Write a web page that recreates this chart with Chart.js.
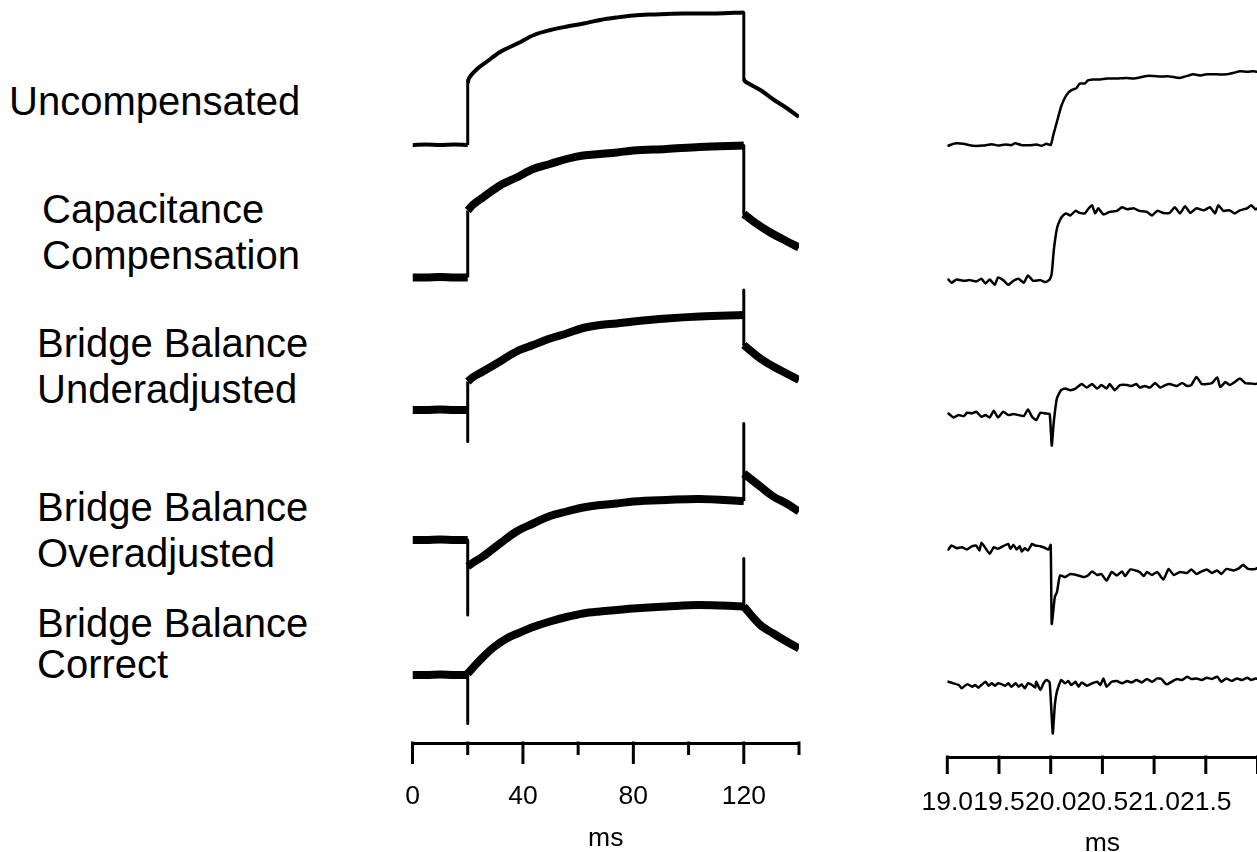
<!DOCTYPE html>
<html><head><meta charset="utf-8">
<script src="https://cdn.jsdelivr.net/npm/chart.js@4.4.1/dist/chart.umd.min.js"></script>
<style>
html,body{margin:0;padding:0;background:#fff;overflow:hidden;width:1257px;height:852px;position:relative;}
.lbl{position:absolute;font-family:"Liberation Sans",Arial,Helvetica,sans-serif;font-size:40px;line-height:46px;color:#000;white-space:nowrap;}
canvas{position:absolute;top:0;}
</style></head><body>
<div class="lbl" style="left:9px;top:78px">Uncompensated</div>
<div class="lbl" style="left:42px;top:186px">Capacitance<br>Compensation</div>
<div class="lbl" style="left:37px;top:320px">Bridge Balance<br>Underadjusted</div>
<div class="lbl" style="left:37px;top:484px">Bridge Balance<br>Overadjusted</div>
<div class="lbl" style="left:37px;top:603px;line-height:41px">Bridge Balance<br>Correct</div>
<canvas id="left" width="450" height="870" style="left:380px"></canvas>
<canvas id="right" width="400" height="870" style="left:900px"></canvas>
<script>
// ---------- DATA (time in ms, response in mV relative to each trace's baseline) ----------
const traceNames = ['Uncompensated','Capacitance Compensation','Bridge Balance Underadjusted','Bridge Balance Overadjusted','Bridge Balance Correct'];

// Full sweep, 0-140 ms
const uncompLeft = [[0,0],[5,0.1],[10,0],[15,0.1],[20,0],[20,12.4],[20.5,13.4],[23,15],[27,16.7],[32,18.7],[38,20.3],[44,22],[50,23],[56,23.7],[62,24.3],[68,25],[74,25.5],[80,25.9],[86,26.1],[92,26.2],[98,26.3],[104,26.3],[110,26.3],[120,26.5],[120,13.2],[120.5,12.7],[126,11],[131,9],[135.5,7.4],[140,5.6]];
const capLeft = [[0,0],[5,0],[10,0.1],[15,0],[20,0],[20,13.4],[22,14.6],[25.5,16],[31.7,18.4],[37.7,20],[43.7,21.7],[49.8,22.7],[55.8,23.7],[61.8,24.4],[67.9,24.7],[74,25],[80,25.4],[92,25.7],[104,26.1],[120,26.4],[120,12.7],[124,11],[129.3,9.1],[134,7.7],[140,6]];
const underLeft = [[0,0],[5,0],[10,0.1],[15,0],[20,0],[20,-6.3],[20,5.7],[22,6.6],[25.5,7.7],[31.7,9.7],[37.7,11.7],[43.7,13],[49.8,14.3],[55.8,15.3],[61.8,16.4],[67.9,17],[74,17.3],[80,17.7],[92,18.3],[104,18.7],[120,19],[120,24],[120,13],[126,10.3],[130.7,8.7],[135.5,7.3],[140,6]];
const overLeft = [[0,0],[5,0],[10,0.1],[15,0],[20,0],[20,-15],[20,-5.3],[22,-4.5],[25.5,-3.3],[31.7,-0.7],[37.7,1.7],[43.7,3.3],[49.8,4.8],[55.8,5.7],[61.8,6.5],[67.9,7],[74,7.3],[80,7.7],[92,8],[104,8.2],[120,7.8],[120,23.3],[120,13.3],[126,10.7],[130.7,8.7],[135.5,7.3],[140,5.7]];
const correctLeft = [[0,0],[5,0],[10,0.1],[15,0],[20,0],[20,-9.7],[20,0.3],[24.5,3],[29.3,5.5],[34.1,7.3],[38.9,8.5],[43.7,9.6],[49.8,10.7],[55.8,11.6],[61.8,12.3],[67.9,12.7],[74,13],[80,13.3],[92,13.7],[104,14],[120,13.7],[120,23.3],[120,13.7],[126,10],[130.7,8.3],[135.5,6.7],[140,5.3]];

// Expanded view, 19-22 ms
const uncompRight = [[19.0,0],[19.01,-0.1],[19.07,0.33],[19.155,0.26],[19.25,-0.13],[19.35,-0.07],[19.43,0.2],[19.49,-0.07],[19.56,0.13],[19.62,0],[19.655,0.39],[19.72,0],[19.8,0],[19.865,0.13],[19.91,-0.13],[19.96,0.26],[20.0,0],[20.025,1.96],[20.06,4.57],[20.105,7.84],[20.155,9.93],[20.2,10.8],[20.25,11.2],[20.28,12.1],[20.33,12.1],[20.36,12.7],[20.41,12.9],[20.48,12.9],[20.54,13.1],[20.64,13.1],[20.73,13.2],[20.8,13.1],[20.86,13.3],[20.93,13.6],[20.99,13.6],[21.06,13.5],[21.15,13.5],[21.25,13.2],[21.32,13.6],[21.38,13.9],[21.45,13.7],[21.51,13.9],[21.61,13.9],[21.7,13.9],[21.77,14.2],[21.83,14.5],[21.9,14.4],[21.96,14.5],[22.0,14.4]];
const capRight = [[19.0,0],[19.01,0.13],[19.04,-0.52],[19.09,0.13],[19.16,-0.13],[19.22,0],[19.28,-0.26],[19.33,0.26],[19.37,-0.65],[19.41,0.13],[19.46,-0.92],[19.49,0.52],[19.54,0],[19.59,-0.92],[19.64,-0.13],[19.69,0.26],[19.74,-0.52],[19.78,0.92],[19.83,-0.13],[19.9,0],[19.95,-0.39],[19.99,0.13],[20.01,1.3],[20.03,5.9],[20.06,10.1],[20.09,11.8],[20.12,12.7],[20.15,13.1],[20.19,12.7],[20.24,13.6],[20.28,13.2],[20.33,13.1],[20.36,13.9],[20.4,14.7],[20.43,13.1],[20.46,14.1],[20.51,12.9],[20.57,13.4],[20.64,13.6],[20.69,14.3],[20.74,13.9],[20.8,14.1],[20.86,13.6],[20.93,13.4],[20.98,12.7],[21.03,13.6],[21.09,13.2],[21.15,13.2],[21.2,14.3],[21.25,13.1],[21.3,14.5],[21.35,13.2],[21.41,14.1],[21.48,13.7],[21.54,14.3],[21.59,13.1],[21.62,14.7],[21.67,13.6],[21.73,13.7],[21.78,13.1],[21.83,13.7],[21.9,14.1],[21.94,14.7],[21.98,13.9],[22.0,14.1]];
const underRight = [[19.0,0.2],[19.01,0.33],[19.06,-0.46],[19.11,0],[19.16,-0.2],[19.19,0.46],[19.24,0.33],[19.28,0.65],[19.33,-0.33],[19.37,0],[19.41,-0.46],[19.45,0.85],[19.49,-0.46],[19.54,0.65],[19.59,0],[19.64,0.2],[19.69,0],[19.74,-0.2],[19.78,1.1],[19.82,-0.33],[19.86,-0.98],[19.9,0.46],[19.95,0.33],[19.99,0.2],[20.01,-6.0],[20.03,-1.3],[20.06,3.3],[20.1,4.9],[20.14,5.2],[20.19,4.9],[20.24,5.2],[20.3,6.1],[20.35,5.4],[20.4,6.1],[20.45,5.2],[20.49,5.9],[20.54,5.2],[20.57,6.1],[20.62,4.9],[20.67,5.9],[20.74,5.9],[20.78,5.7],[20.83,6.1],[20.86,5.4],[20.91,5.7],[20.96,5.4],[21.01,6.3],[21.06,5.4],[21.11,5.9],[21.15,6.1],[21.22,5.7],[21.27,6.3],[21.32,5.7],[21.36,5.9],[21.41,7.5],[21.46,6.1],[21.51,6.1],[21.56,6.3],[21.61,7.4],[21.64,5.5],[21.69,6.5],[21.73,5.9],[21.78,6.5],[21.83,7.2],[21.88,6.3],[21.93,6.2],[21.98,6.1],[22.0,6.2]];
const overRight = [[19.0,-0.3],[19.01,-0.39],[19.04,0.39],[19.09,-0.13],[19.14,0.07],[19.19,-0.39],[19.24,0.26],[19.28,0.39],[19.31,-0.59],[19.33,0.92],[19.37,-0.13],[19.41,-1.24],[19.45,0.07],[19.49,-0.26],[19.54,0.26],[19.59,0.72],[19.61,-0.26],[19.64,0.52],[19.67,-0.39],[19.7,0.26],[19.72,-0.78],[19.75,-0.13],[19.78,-0.59],[19.82,0.72],[19.85,0.39],[19.9,0.26],[19.95,-0.13],[19.98,-0.39],[20.0,0.52],[20.01,-15],[20.04,-9.7],[20.06,-8.8],[20.09,-5.5],[20.14,-5.8],[20.19,-5.2],[20.25,-5.4],[20.32,-5.8],[20.36,-5.5],[20.4,-4.7],[20.45,-5.4],[20.49,-5.2],[20.54,-6.5],[20.59,-4.8],[20.64,-5.5],[20.69,-4.7],[20.72,-5.6],[20.77,-4.3],[20.82,-4.5],[20.86,-4.8],[20.9,-5.6],[20.93,-4.8],[20.98,-5.4],[21.03,-4.8],[21.09,-6.3],[21.14,-4.2],[21.19,-5.4],[21.25,-4.8],[21.32,-5],[21.36,-4.3],[21.41,-5.2],[21.46,-4.7],[21.51,-4.3],[21.56,-5],[21.61,-4.5],[21.65,-5.2],[21.7,-4.2],[21.77,-4.5],[21.82,-4.1],[21.86,-3.4],[21.91,-4.2],[21.98,-4.2],[22.0,-4.0]];
const correctRight = [[19.0,0.7],[19.01,0.65],[19.06,0.33],[19.11,0],[19.14,-0.65],[19.17,-0.13],[19.2,0.13],[19.24,-0.33],[19.27,0],[19.3,-0.52],[19.33,0],[19.37,0.65],[19.4,-0.13],[19.43,0.33],[19.46,-0.13],[19.49,0.33],[19.53,0.13],[19.56,-0.13],[19.59,0.33],[19.62,-0.33],[19.66,0.33],[19.69,-0.33],[19.72,0.13],[19.75,-0.65],[19.78,0.33],[19.82,0],[19.85,-0.52],[19.86,0.65],[19.9,-0.98],[19.93,0.33],[19.96,0.98],[19.99,0.52],[20.02,-9.5],[20.04,-3.9],[20.06,-1.3],[20.1,0.98],[20.14,0.33],[20.17,0.78],[20.2,0],[20.24,0.65],[20.27,-0.33],[20.3,0.52],[20.35,-0.13],[20.4,0.33],[20.45,0.65],[20.48,0],[20.51,1.3],[20.54,-0.33],[20.59,0.65],[20.64,0.78],[20.69,0.33],[20.74,0.78],[20.78,0.52],[20.83,0.98],[20.88,0.52],[20.93,1.18],[20.98,0.65],[21.03,1.3],[21.07,1.18],[21.12,0.13],[21.17,0.65],[21.22,1.18],[21.27,0.98],[21.32,1.63],[21.36,1.18],[21.41,1.3],[21.46,0.98],[21.51,1.44],[21.56,1.18],[21.61,1.63],[21.65,0.65],[21.7,1.3],[21.75,0.78],[21.8,1.3],[21.85,0.98],[21.9,1.44],[21.94,0.98],[21.98,1.3],[22.0,1.2]];

const leftSeries = [uncompLeft, capLeft, underLeft, overLeft, correctLeft];
const rightSeries = [uncompRight, capRight, underRight, overRight, correctRight];

// axis ranges / ticks
const leftRange = {min: 0, max: 140, step: 20, labelStep: 40};
const rightRange = {min: 19, max: 22, step: 0.5};

// ---------- LAYOUT / STYLE ----------
const TRACE_OFFSET = [106, 79.5, 53, 27, 0];   // vertical stacking of traces (mV)
const LEFT_Y = {min: -13.6, max: 135};
const RIGHT_Y = {min: -14.13, max: 134.5};
const LEFT_WIDTH = [4, 8, 8, 8, 8];
const RIGHT_WIDTH = 2.5;
const FONT = '"Liberation Sans", Arial, Helvetica, sans-serif';

// split a trace into runs of vertical (same-time) steps and sloped pieces
function pieces(pts) {
  const out = [];
  let cur = [pts[0]];
  let vert = null;
  for (let i = 1; i < pts.length; i++) {
    const v = pts[i][0] === pts[i - 1][0];
    if (vert === null || v === vert) { cur.push(pts[i]); vert = v; }
    else { out.push({vert: vert, pts: cur}); cur = [pts[i - 1], pts[i]]; vert = v; }
  }
  out.push({vert: vert, pts: cur});
  return out;
}

function leftDatasets(series) {
  const ds = [];
  series.forEach((s, i) => {
    pieces(s).forEach(p => {
      ds.push({
        label: traceNames[i],
        data: p.pts.map(([x, v]) => ({x: x, y: v + TRACE_OFFSET[i]})),
        borderColor: '#000',
        borderWidth: p.vert ? 3 : LEFT_WIDTH[i],
        pointRadius: 0,
        tension: p.vert ? 0 : 0.35,
        fill: false,
        borderCapStyle: 'butt',
        borderJoinStyle: 'round'
      });
    });
  });
  return ds;
}

function rightDatasets(series) {
  return series.map((s, i) => ({
    label: traceNames[i],
    data: s.map(([x, v]) => ({x: x, y: v + TRACE_OFFSET[i]})),
    borderColor: '#000',
    borderWidth: RIGHT_WIDTH,
    pointRadius: 0,
    tension: 0.15,
    fill: false,
    borderJoinStyle: 'round'
  }));
}

const tickPlugin = {
  id: 'axisTicks',
  afterDraw(chart, args, opts) {
    const s = chart.scales.x;
    const ctx = chart.ctx;
    ctx.save();
    ctx.strokeStyle = '#000';
    ctx.lineWidth = 3;
    ctx.lineCap = 'butt';
    s.ticks.forEach(t => {
      const x = s.getPixelForValue(t.value);
      const r = t.value / opts.every;
      const isMajor = Math.abs(r - Math.round(r)) < 1e-6;
      const len = isMajor ? opts.major : opts.minor;
      ctx.beginPath();
      ctx.moveTo(x, s.top - 1.5);
      ctx.lineTo(x, s.top + len);
      ctx.stroke();
    });
    ctx.restore();
  }
};

function makeChart(id, cfg) {
  return new Chart(document.getElementById(id), {
    type: 'line',
    data: {datasets: cfg.datasets},
    plugins: [tickPlugin],
    options: {
      responsive: false,
      animation: false,
      devicePixelRatio: 1,
      layout: {padding: cfg.padding},
      plugins: {
        legend: {display: false},
        tooltip: {enabled: false},
        axisTicks: cfg.ticksOpt
      },
      scales: {
        x: {
          type: 'linear',
          min: cfg.range.min,
          max: cfg.range.max,
          ticks: {
            stepSize: cfg.range.step,
            autoSkip: false,
            maxRotation: 0,
            minRotation: 0,
            color: '#000',
            padding: cfg.labelPad,
            font: {family: FONT, size: 26.5, lineHeight: 1.2},
            callback: cfg.labelFn
          },
          grid: {
            display: true,
            drawOnChartArea: false,
            drawTicks: true,
            tickLength: cfg.ticksOpt.major,
            tickColor: 'rgba(0,0,0,0)'
          },
          border: {display: true, color: '#000', width: 3},
          title: {
            display: true,
            text: 'ms',
            color: '#000',
            font: {family: FONT, size: 26.5, lineHeight: 1.2},
            padding: {top: 0, bottom: cfg.titlePad}
          },
          afterFit: s => { s.height = cfg.axisHeight; }
        },
        y: {
          type: 'linear',
          display: false,
          min: cfg.yRange.min,
          max: cfg.yRange.max
        }
      }
    }
  });
}

makeChart('left', {
  datasets: leftDatasets(leftSeries),
  range: leftRange,
  yRange: LEFT_Y,
  padding: {left: 32.5, right: 31, top: 0, bottom: 0},
  labelPad: 17,
  titlePad: 15,
  axisHeight: 127,
  ticksOpt: {major: 21, minor: 12, every: leftRange.labelStep},
  labelFn: v => (Math.abs(v % leftRange.labelStep) < 1e-9 ? String(v) : '')
});

makeChart('right', {
  datasets: rightDatasets(rightSeries),
  range: rightRange,
  yRange: RIGHT_Y,
  padding: {left: 47.3, right: 42.5, top: 0, bottom: 0},
  labelPad: 13,
  titlePad: 10,
  axisHeight: 113,
  ticksOpt: {major: 17, minor: 17, every: rightRange.step},
  labelFn: v => (v >= rightRange.max - 1e-9 ? '' : v.toFixed(1))
});
</script>
</body></html>
